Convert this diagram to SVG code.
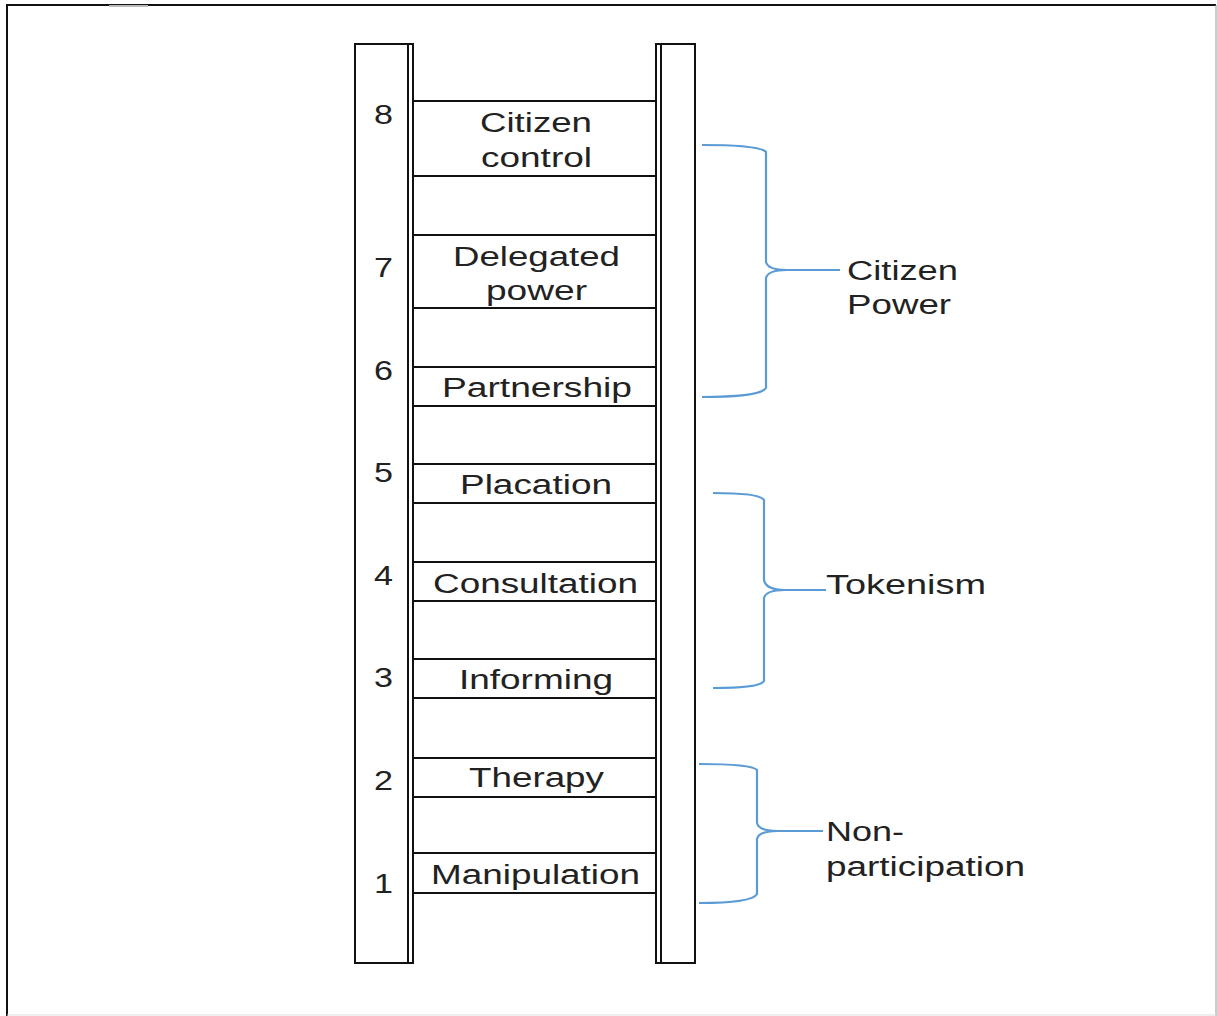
<svg xmlns="http://www.w3.org/2000/svg" width="1217" height="1016" viewBox="0 0 1217 1016">
<style>
.rail{fill:none;stroke:#111;stroke-width:2}
.rung{stroke:#111;stroke-width:2}
.t{font-family:"Liberation Sans",Arial,sans-serif;font-size:27px;fill:#222}
.b{fill:none;stroke:#5b9bd5;stroke-width:2.2}
</style>
<rect width="1217" height="1016" fill="#fff"/>
<g id="frame">
<line x1="7" y1="5" x2="7" y2="1016" stroke="#111" stroke-width="2"/>
<line x1="6" y1="5" x2="1216" y2="5" stroke="#111" stroke-width="2"/>
<line x1="1216" y1="5" x2="1216" y2="1016" stroke="#999" stroke-width="1"/>
<line x1="7" y1="1015" x2="1216" y2="1015" stroke="#ddd" stroke-width="1"/>
<line x1="109" y1="6" x2="148" y2="6" stroke="#bbb" stroke-width="2"/>
</g>
<g id="ladder">
<rect class="rail" x="355" y="44" width="58" height="919"/>
<line class="rail" x1="408" y1="44" x2="408" y2="963"/>
<rect class="rail" x="656" y="44" width="39" height="919"/>
<line class="rail" x1="661" y1="44" x2="661" y2="963"/>
</g>
<g id="rungs">
<line class="rung" x1="413" y1="101" x2="656" y2="101"/><line class="rung" x1="413" y1="176" x2="656" y2="176"/>
<line class="rung" x1="413" y1="235" x2="656" y2="235"/><line class="rung" x1="413" y1="308" x2="656" y2="308"/>
<line class="rung" x1="413" y1="367" x2="656" y2="367"/><line class="rung" x1="413" y1="406" x2="656" y2="406"/>
<line class="rung" x1="413" y1="464" x2="656" y2="464"/><line class="rung" x1="413" y1="503" x2="656" y2="503"/>
<line class="rung" x1="413" y1="562" x2="656" y2="562"/><line class="rung" x1="413" y1="601" x2="656" y2="601"/>
<line class="rung" x1="413" y1="659" x2="656" y2="659"/><line class="rung" x1="413" y1="698" x2="656" y2="698"/>
<line class="rung" x1="413" y1="758" x2="656" y2="758"/><line class="rung" x1="413" y1="797" x2="656" y2="797"/>
<line class="rung" x1="413" y1="853" x2="656" y2="853"/><line class="rung" x1="413" y1="893" x2="656" y2="893"/>
</g>
<g id="numbers" class="t">
<text x="374" y="124" textLength="19" lengthAdjust="spacingAndGlyphs">8</text>
<text x="374" y="277" textLength="19" lengthAdjust="spacingAndGlyphs">7</text>
<text x="374" y="380" textLength="19" lengthAdjust="spacingAndGlyphs">6</text>
<text x="374" y="482" textLength="19" lengthAdjust="spacingAndGlyphs">5</text>
<text x="374" y="585" textLength="19" lengthAdjust="spacingAndGlyphs">4</text>
<text x="374" y="687" textLength="19" lengthAdjust="spacingAndGlyphs">3</text>
<text x="374" y="790" textLength="19" lengthAdjust="spacingAndGlyphs">2</text>
<text x="374" y="893" textLength="19" lengthAdjust="spacingAndGlyphs">1</text>
</g>
<g id="rung8" class="t"><text x="480" y="132" textLength="112" lengthAdjust="spacingAndGlyphs">Citizen</text><text x="481" y="167" textLength="111" lengthAdjust="spacingAndGlyphs">control</text></g>
<g id="rung7" class="t"><text x="453" y="266" textLength="167" lengthAdjust="spacingAndGlyphs">Delegated</text><text x="486" y="300" textLength="101" lengthAdjust="spacingAndGlyphs">power</text></g>
<g id="rung6" class="t"><text x="442" y="397" textLength="190" lengthAdjust="spacingAndGlyphs">Partnership</text></g>
<g id="rung5" class="t"><text x="460" y="494" textLength="152" lengthAdjust="spacingAndGlyphs">Placation</text></g>
<g id="rung4" class="t"><text x="433" y="593" textLength="205" lengthAdjust="spacingAndGlyphs">Consultation</text></g>
<g id="rung3" class="t"><text x="459" y="689" textLength="154" lengthAdjust="spacingAndGlyphs">Informing</text></g>
<g id="rung2" class="t"><text x="469" y="787" textLength="135" lengthAdjust="spacingAndGlyphs">Therapy</text></g>
<g id="rung1" class="t"><text x="431" y="884" textLength="209" lengthAdjust="spacingAndGlyphs">Manipulation</text></g>
<g id="connectors">
<path class="b" d="M702,145 Q760,145 766,152 L766,262 Q768,270 787,270 L840,270 M787,270 Q768,270 766,278 L766,388 Q760,397 702,397"/>
<path class="b" d="M713,493 Q760,493 764,500 L764,580 Q766,590 785,590 L826,590 M785,590 Q766,590 764,598 L764,681 Q760,688 713,688"/>
<path class="b" d="M699,764 Q752,764 757,770 L757,823 Q759,831 778,831 L823,831 M778,831 Q759,831 757,839 L757,894 Q752,903 699,903"/>
</g>
<g id="group-citizen-power" class="t"><text x="847" y="280" textLength="111" lengthAdjust="spacingAndGlyphs">Citizen</text><text x="847" y="314" textLength="104" lengthAdjust="spacingAndGlyphs">Power</text></g>
<g id="group-tokenism" class="t"><text x="826" y="594" textLength="160" lengthAdjust="spacingAndGlyphs">Tokenism</text></g>
<g id="group-nonparticipation" class="t"><text x="826" y="841" textLength="78" lengthAdjust="spacingAndGlyphs">Non-</text><text x="826" y="876" textLength="199" lengthAdjust="spacingAndGlyphs">participation</text></g>
</svg>
